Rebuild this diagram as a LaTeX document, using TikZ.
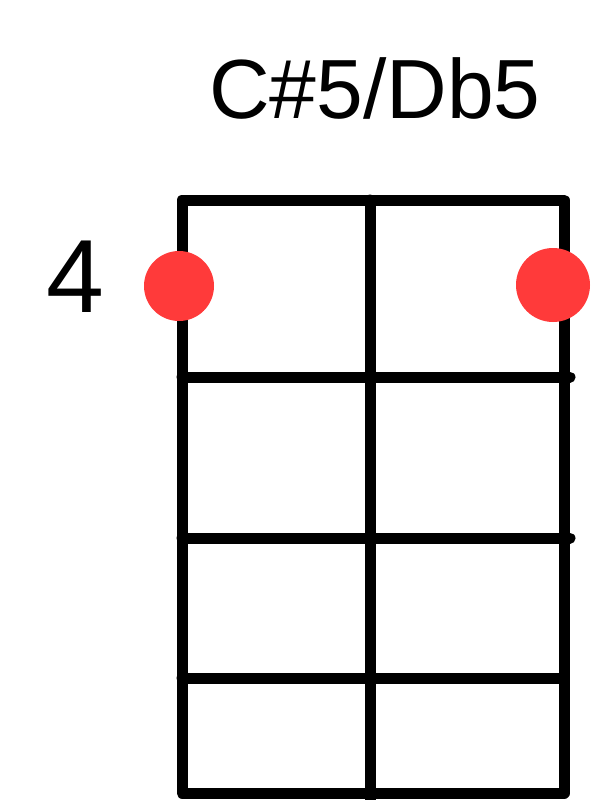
\documentclass[tikz,border=0pt]{standalone}
\usepackage{fontspec}
\setmainfont{Liberation Sans}
\definecolor{dotred}{HTML}{FF3A3A}
\begin{document}
\begin{tikzpicture}[x=1pt,y=-1pt,
  gridline/.style={line width=11pt,black,line cap=round,line join=round},
  fingerdot/.style={circle,fill=dotred,inner sep=0pt,minimum size=70pt},
  label/.style={font=\fontsize{84}{84}\selectfont,inner sep=0pt,anchor=base}]
\useasboundingbox (0,0) rectangle (600,800);
\fill[white] (0,0) rectangle (600,800);
\coordinate (tl) at (182,200);
\coordinate (tm) at (370,200);
\coordinate (tr) at (564,200);
\coordinate (bl) at (182,793);
\coordinate (bm) at (370,800);
\coordinate (br) at (564,793);
\coordinate (l1) at (182,377);
\coordinate (r1) at (570,377);
\coordinate (l2) at (182,538);
\coordinate (r2) at (570,538);
\coordinate (l3) at (182,678);
\coordinate (r3) at (564,678);
\draw[gridline] (bl) -- (tl) -- (tr) -- (br) -- cycle;
\draw[gridline] (tm) -- (bm);
\draw[gridline] (l1) -- (r1);
\draw[gridline] (l2) -- (r2);
\draw[gridline] (l3) -- (r3);
\node[fingerdot] (d1) at (179,286) {};
\node[fingerdot,minimum size=74pt] (d2) at (553,285) {};
\node[label] (title) at (375,118) {C\#5/Db5};
\node[label,font=\fontsize{104}{104}\selectfont] (fret) at (75.5,312) {4};
\end{tikzpicture}
\end{document}
